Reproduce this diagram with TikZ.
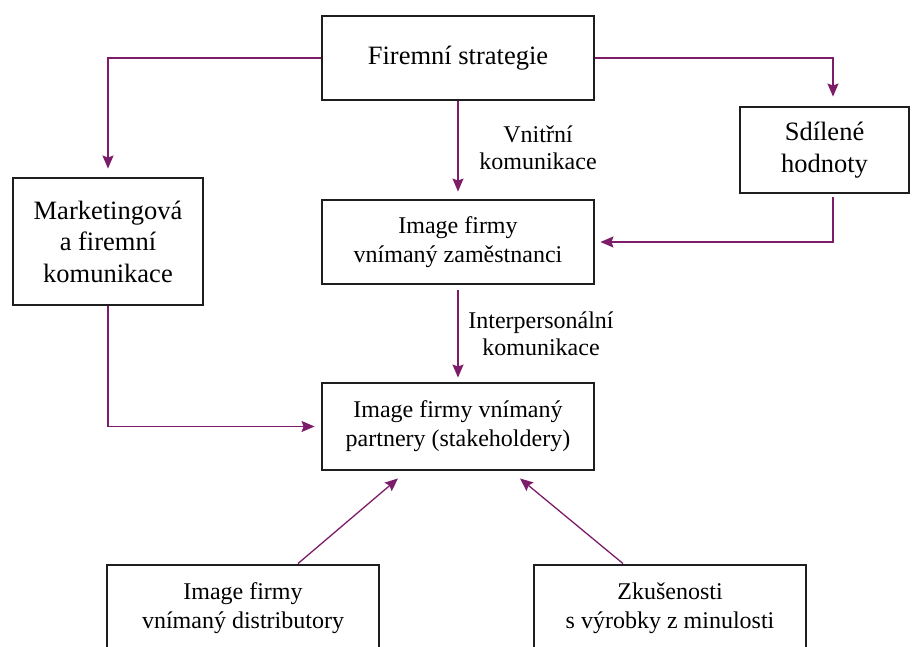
\documentclass[tikz,border=0pt]{standalone}
\usepackage{fontspec}
\setmainfont{Liberation Serif}
\usetikzlibrary{arrows.meta}
\definecolor{conn}{RGB}{125,28,105}
\definecolor{boxline}{RGB}{30,30,30}
\tikzset{
  box/.style={draw=boxline, line width=2.9pt, align=center, inner sep=0pt,
    font=\fontsize{24}{29}\selectfont},
  bigtext/.style={font=\fontsize{26.5}{31.5}\selectfont},
  lbl/.style={align=center, inner sep=0pt, font=\fontsize{24}{27}\selectfont},
  conn/.style={draw=conn, line width=1.3pt, -{Stealth[length=13pt,width=11pt,inset=2pt]}},
}
\begin{document}
\begin{tikzpicture}[x=1pt,y=-1pt]
\useasboundingbox (0,0) rectangle (912,646);
\clip (0,0) rectangle (912,646);
\node[box,bigtext,minimum width=272pt,minimum height=84pt] (strat) at (458,58) {Firemní strategie};
\node[box,bigtext,minimum width=190pt,minimum height=127pt] (mark) at (108,241.5) {Marketingová\\a firemní\\komunikace};
\node[box,minimum width=272pt,minimum height=84pt] (zam) at (458,242) {Image firmy\\vnímaný zaměstnanci};
\node[box,bigtext,minimum width=169pt,minimum height=86pt] (sdil) at (824.5,150) {Sdílené\\hodnoty};
\node[box,minimum width=272pt,minimum height=87pt] (part) at (458,426.5) {Image firmy vnímaný\\partnery (stakeholdery)};
\node[box,minimum width=272pt,minimum height=86pt] (dist) at (243,608) {Image firmy\\vnímaný distributory};
\node[box,minimum width=272pt,minimum height=86pt] (zk) at (670,608) {Zkušenosti\\s výrobky z minulosti};
\node[lbl] (lvn) at (538,148) {Vnitřní\\komunikace};
\node[lbl] (lint) at (541,334) {Interpersonální\\komunikace};
\draw[conn, shorten >=8pt] (strat.west) -| (mark.north);
\draw[conn, shorten >=9pt] (strat.east) -| ([xshift=8.5pt]sdil.north);
\draw[conn, shorten >=7pt] (strat.south) -- (zam.north);
\draw[conn, shorten >=5pt, shorten <=3pt] ([xshift=8.5pt]sdil.south) |- (zam.east);
\draw[conn, shorten >=4pt, shorten <=5pt] (zam.south) -- (part.north);
\draw[conn, shorten >=6pt] (mark.south) |- (part.west);
\draw[conn] ([xshift=55pt]dist.north) -- ([xshift=-60pt,yshift=-7pt]part.south);
\draw[conn] ([xshift=-47pt]zk.north) -- ([xshift=62pt,yshift=-7pt]part.south);
\end{tikzpicture}
\end{document}
